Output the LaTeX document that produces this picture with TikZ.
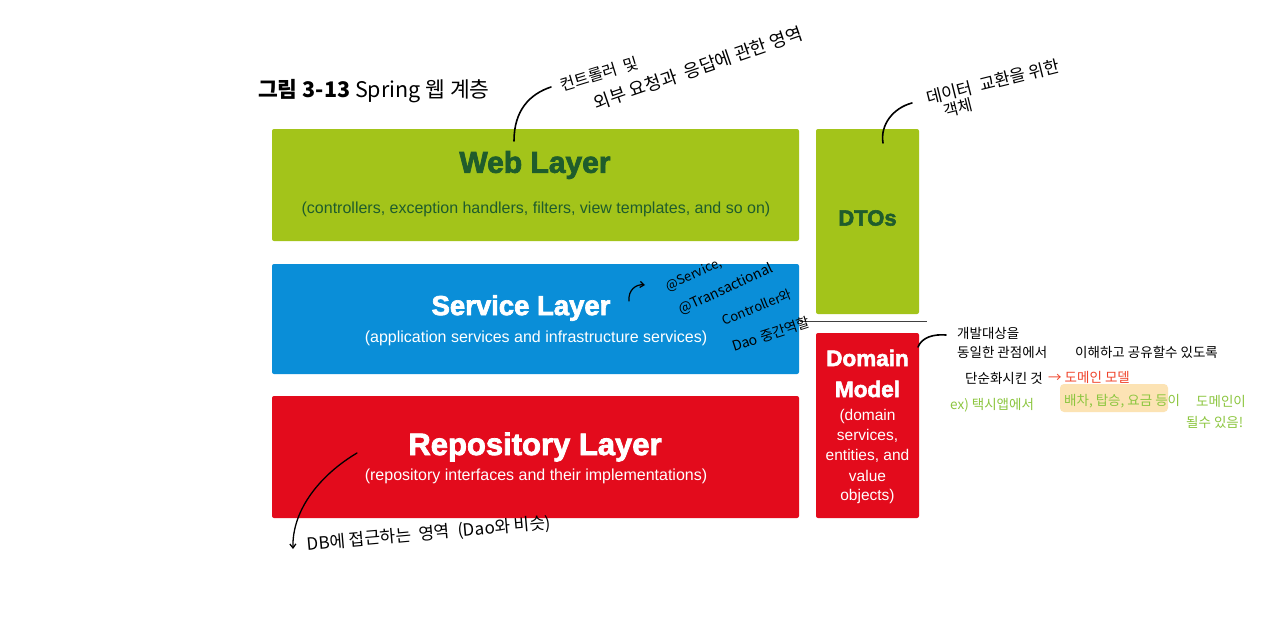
\documentclass[tikz,border=0pt]{standalone}
\usepackage{fontspec}
\setmainfont{Liberation Sans}
\newfontfamily\kr{Noto Sans CJK KR}
\newfontfamily\heavy[FakeBold=2.5]{Liberation Sans Bold}
\usetikzlibrary{arrows.meta}
\definecolor{wgreen}{HTML}{A3C41A}
\definecolor{dgreen}{HTML}{1F5C2C}
\definecolor{sblue}{HTML}{0A8ED8}
\definecolor{rred}{HTML}{E30B1C}
\definecolor{hgreen}{HTML}{8CC63F}
\definecolor{hred}{HTML}{F0432A}
\definecolor{hlite}{HTML}{FCE3B4}
\tikzset{
  layer/.style={draw=none, rounded corners=2pt, inner sep=0pt},
  ttl/.style={font=\heavy\fontsize{29}{32}\selectfont, inner sep=0pt},
  sub/.style={font=\fontsize{16}{19}\selectfont, inner sep=0pt},
  small/.style={font=\fontsize{15.5}{18}\selectfont, inner sep=0pt, text=white},
  hand/.style={font=\kr\fontsize{15}{18}\selectfont, inner sep=0pt, text=black},
  dhand/.style={hand, anchor=west, font=\kr\fontsize{13.5}{16}\selectfont},
  pen/.style={line width=1.6pt, line cap=round},
}
\begin{document}
\begin{tikzpicture}[x=1pt,y=-1pt]
\useasboundingbox[fill=white] (0,0) rectangle (1280,621);

% title
\node[anchor=base west, inner sep=0pt, font=\kr\fontsize{21.5}{24}\selectfont] (title) at (258,97)
  {{\bfseries 그림 3-13} Spring 웹 계층};

% boxes
\node[layer, fill=wgreen, minimum width=527pt, minimum height=112pt] (web) at (535.5,185) {};
\node[layer, fill=wgreen, minimum width=103pt, minimum height=185pt] (dto) at (867.5,221.5) {};
\node[layer, fill=sblue, minimum width=527pt, minimum height=110pt] (svc) at (535.5,319) {};
\node[layer, fill=rred, minimum width=527pt, minimum height=122pt] (repo) at (535.5,457) {};
\node[layer, fill=rred, minimum width=103pt, minimum height=185pt] (dom) at (867.5,425.5) {};

% texts in boxes
\node[ttl, text=dgreen, font=\heavy\fontsize{30}{32}\selectfont] (webt) at (535,165) {Web Layer};
\node[sub, text=dgreen] (webs) at (536,209) {(controllers, exception handlers, filters, view templates, and so on)};
\node[ttl, text=dgreen, font=\heavy\fontsize{22}{24}\selectfont] (dtot) at (867.5,218) {DTOs};
\node[ttl, text=white, font=\heavy\fontsize{27.5}{32}\selectfont] (svct) at (521,308) {Service Layer};
\node[sub, text=white] (svcs) at (536,338) {(application services and infrastructure services)};
\node[ttl, text=white, font=\heavy\fontsize{31}{32}\selectfont] (repot) at (535,447) {Repository Layer};
\node[sub, text=white] (repos) at (536,476) {(repository interfaces and their implementations)};
\node[ttl, text=white, font=\heavy\fontsize{22.5}{24}\selectfont] (domt1) at (867.5,358) {Domain};
\node[ttl, text=white, font=\heavy\fontsize{22.5}{24}\selectfont] (domt2) at (867.5,389) {Model};
\node[small] (d1) at (867.5,416) {(domain};
\node[small] (d2) at (867.5,436) {services,};
\node[small] (d3) at (867.5,456) {entities, and};
\node[small] (d4) at (867.5,476) {value};
\node[small] (d5) at (867.5,496) {objects)};

% separator line
\coordinate (sepL) at (800,321);
\coordinate (sepR) at (927,321);
\draw[line width=1pt, draw=black!75] (sepL) -- (sepR);

% --- handwritten annotations ---
% web layer
\node[hand, rotate=17, font=\kr\fontsize{16}{18}\selectfont] (w1) at (599,74) {컨트롤러 \ 및};
\node[hand, rotate=19, font=\kr\fontsize{18}{20}\selectfont] (w2) at (698,68) {외부 요청과 \ 응답에 관한 영역};
\coordinate (wA) at (514,141);
\coordinate (wB) at (551,87);
\draw[pen] (wA) .. controls (514,110) and (530,94) .. (wB);

% DTO
\node[hand, rotate=14, font=\kr\fontsize{17}{18}\selectfont] (t1) at (993,82) {데이터 \ 교환을 위한};
\node[hand, rotate=14, font=\kr\fontsize{16}{18}\selectfont] (t2) at (958,108) {객체};
\coordinate (tA) at (883,143);
\coordinate (tB) at (912,103);
\draw[pen] (tA) .. controls (880,125) and (893,108) .. (tB);

% service
\node[hand, rotate=25, font=\kr\fontsize{13}{15}\selectfont] (s1) at (694,275) {@Service,};
\node[hand, rotate=25, font=\kr\fontsize{14}{16}\selectfont] (s2) at (726,289) {@Transactional};
\node[hand, rotate=22, font=\kr\fontsize{13}{15}\selectfont] (s3) at (757,307) {Controller와};
\node[hand, rotate=18, font=\kr\fontsize{14}{16}\selectfont] (s4) at (771,334) {Dao 중간역할};
\coordinate (sA) at (629,301);
\coordinate (sB) at (645,285);
\draw[pen, line width=1.2pt, -{Straight Barb[length=4pt,width=6pt]}] (sA) .. controls (628,290) and (636,284) .. (sB);

% domain
\coordinate (mA) at (918,347);
\coordinate (mB) at (946,335);
\draw[pen] (mA) .. controls (922,337) and (934,334) .. (mB);
\node[dhand] (m1) at (957,333) {개발대상을};
\node[dhand] (m2) at (957,352) {동일한 관점에서};
\node[dhand] (m3) at (1075,352) {이해하고 공유할수 있도록};
\node[dhand] (m4) at (965,378) {단순화시킨 것};
\node[dhand, text=hred] (m5) at (1048,377) {→ 도메인 모델};
\node[fill=hlite, rounded corners=4pt, minimum width=108pt, minimum height=28pt, inner sep=0pt] (hl) at (1114,398) {};
\node[dhand, text=hgreen] (g1) at (950,405) {ex) 택시앱에서};
\node[dhand, text=hgreen] (g2) at (1064,401) {배차, 탑승, 요금 등이};
\node[dhand, text=hgreen] (g3) at (1196,401) {도메인이};
\node[dhand, text=hgreen] (g4) at (1186,422) {될수 있음!};

% repository
\node[hand, rotate=5, font=\kr\fontsize{17}{18}\selectfont] (r1) at (429,534) {DB에 접근하는 \ 영역 \ (Dao와 비슷)};
\coordinate (rA) at (357,453);
\coordinate (rB) at (293,549);
\draw[pen, line width=1.3pt, -{Straight Barb[length=4pt,width=6pt]}] (rA) .. controls (320,475) and (292,510) .. (rB);
\end{tikzpicture}
\end{document}
